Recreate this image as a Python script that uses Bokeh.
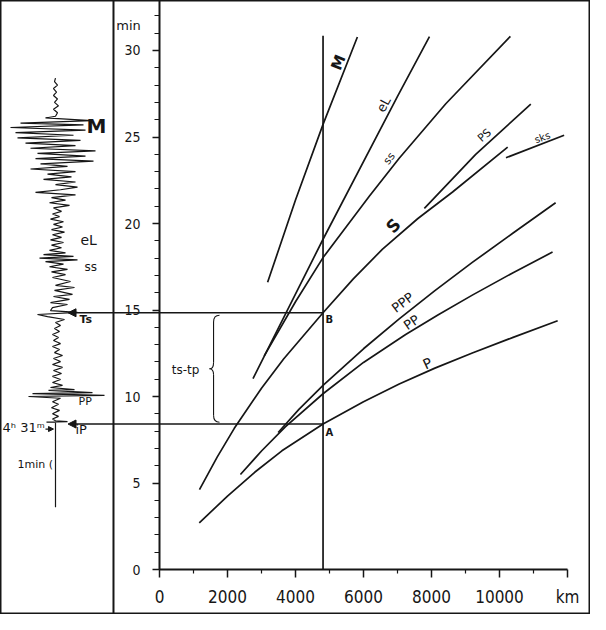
import math
from bokeh.plotting import figure
from bokeh.models import Range1d, LinearAxis, FixedTicker, Span, Arrow, NormalHead
from bokeh.core.properties import value
from bokeh.embed import file_html
from bokeh.resources import INLINE

# ---------------- data (distance km, travel time min) ----------------
P_KM = [1170, 2000, 2800, 3600, 4810, 6000, 7050, 8100, 9200, 10400, 11710]
P_MIN = [2.70, 4.24, 5.62, 6.86, 8.41, 9.70, 10.72, 11.64, 12.52, 13.42, 14.38]

PP_KM = [2380, 3000, 3700, 4810, 6000, 7240, 8200, 9200, 10400, 11560]
PP_MIN = [5.49, 6.85, 8.25, 10.16, 11.97, 13.58, 14.73, 15.86, 17.16, 18.35]

PPP_KM = [3490, 4100, 4810, 6000, 7050, 8100, 9200, 10400, 11650]
PPP_MIN = [7.92, 9.26, 10.64, 12.76, 14.49, 16.12, 17.75, 19.45, 21.20]

S_KM = [1176, 1700, 2200, 3000, 3650, 4810, 5700, 6560, 7600, 8620, 10240]
S_MIN = [4.62, 6.51, 8.16, 10.48, 12.17, 14.84, 16.80, 18.52, 20.29, 21.82, 24.41]

SS_KM = [3080, 4000, 4810, 6170, 7050, 8420, 10320]
SS_MIN = [12.35, 15.48, 18.03, 21.57, 23.77, 26.92, 30.82]

EL_KM = [2750, 4810, 7000, 7940]
EL_MIN = [11.04, 19.09, 27.35, 30.80]

M_KM = [3180, 4000, 4810, 5820]
M_MIN = [16.60, 21.36, 25.73, 30.78]

PS_KM = [7790, 9300, 10920]
PS_MIN = [20.87, 24.00, 26.90]

SKS_KM = [10190, 11900]
SKS_MIN = [23.80, 25.10]

STATION_KM = 4810
TP_MIN = 8.41          # point A
TS_MIN = 14.84         # point B
STATION_TOP = 30.85

Y_TICKS = [0, 5, 10, 15, 20, 25, 30]
Y_MINOR = list(range(0, 33))
X_TICKS = [0, 2000, 4000, 6000, 8000, 10000, 12000]
X_MINOR = [1000, 3000, 5000, 7000, 9000, 11000]

# seismogram trace: time (min) vs. trace deflection (arbitrary units)
SEIS_T = [3.60, 8.50, 8.52, 8.55, 8.60, 8.70, 8.85, 9.00, 9.20, 9.35, 9.55, 9.70, 9.90,
          10.00, 10.06, 10.17, 10.23, 10.35, 10.40, 10.52, 10.64,
          10.81, 10.98, 11.16, 11.33, 11.50, 11.68, 11.85, 12.02, 12.20, 12.37, 12.54,
          12.72, 12.89, 13.06, 13.24, 13.41, 13.58, 13.76, 13.93, 14.10, 14.28, 14.45,
          14.62, 14.74, 14.86, 14.97, 15.14, 15.32, 15.43, 15.61, 15.78, 15.90, 16.13,
          16.30, 16.42, 16.65, 16.88,
          17.05, 17.20, 17.35, 17.50, 17.65, 17.80, 17.90, 18.00, 18.10, 18.20, 18.30,
          18.45, 18.60, 18.75, 18.90, 19.05, 19.20, 19.35, 19.50, 19.65, 19.80, 19.95,
          20.10, 20.25, 20.40, 20.55, 20.70,
          20.90, 21.05, 21.20, 21.35, 21.50, 21.65, 21.80, 21.95, 22.10, 22.25, 22.40,
          22.55, 22.70, 22.85,
          23.00, 23.15, 23.30, 23.45, 23.60, 23.75, 23.90, 24.05, 24.20, 24.35, 24.50,
          24.65, 24.80, 24.95, 25.10, 25.25, 25.40, 25.55, 25.70, 25.80, 25.95, 26.10, 26.20,
          26.40, 26.60, 26.80, 27.00, 27.20, 27.40, 27.60, 27.80, 28.00, 28.20, 28.40]
SEIS_AMP = [0, 0, -9, 12, 0, -3, 3, -3, 4, -4, 3, -3, 5,
            -27, 49, -23, 37, -7, 19, -5, 7,
            -3, 5, -3, 6, -2, 7, -3, 5, -2, 7, -1, 4, -3, 5, -2, 3, -3, 4, -1, 5, 0, 9,
            -8, -18, 22, -5, -3, 12, -5, 14, -2, 17, -1, 19, 0, 15, -3,
            10, -4, 12, -6, 8, -10, 22, -16, 18, -12, 10,
            -6, 6, -4, 8, -5, 6, -3, 9, -4, 7, -2, 8, -5, 4, -3, 6,
            -2, 14, -6, 10, -4, 20, -20, 5, 22, 0, 20, -12, 16, -8,
            20, -25, 12, -15, 38, -20, 30, -18, 40, -25, 20, -30, 25, -38, 18, -40, 30,
            -45, 28, -35, 36, -10, 0,
            2, -2, 3, -1, 2, -2, 1, -2, 2, -1, 0]

# ---------------- layout / style ----------------
INK = "#161616"
NARROW = "DejaVu Sans Condensed"
SANS = "DejaVu Sans"
SEPARATOR_KM = -1353
ARROW_TIP_KM = -2690

p = figure(width=590, height=614,
           x_range=Range1d(-4676, 12676), y_range=Range1d(-2.60, 32.89),
           x_axis_type=None, y_axis_type=None,
           output_backend="svg", toolbar_location=None, min_border=0)
p.outline_line_color = INK
p.outline_line_width = 2
p.background_fill_color = "white"
p.border_fill_color = "white"
p.extra_x_ranges = {"seis": Range1d(-55, 535)}

yax = LinearAxis(fixed_location=0, bounds=(0, 32.89),
                 ticker=FixedTicker(ticks=Y_TICKS, minor_ticks=Y_MINOR),
                 axis_line_color=INK, axis_line_width=2,
                 major_tick_line_color=INK, major_tick_line_width=1.5,
                 minor_tick_line_color=INK, minor_tick_line_width=1.2,
                 major_tick_in=0, major_tick_out=7, minor_tick_in=0, minor_tick_out=5,
                 major_label_standoff=12, major_label_text_font=NARROW,
                 major_label_text_font_size="14px", major_label_text_color=INK)
p.add_layout(yax, "left")

xax = LinearAxis(fixed_location=0, bounds=(0, 12000),
                 ticker=FixedTicker(ticks=X_TICKS, minor_ticks=X_MINOR),
                 major_label_overrides={12000: "km"},
                 axis_line_color=INK, axis_line_width=2,
                 major_tick_line_color=INK, major_tick_line_width=1.5,
                 minor_tick_line_color=INK, minor_tick_line_width=1.2,
                 major_tick_in=0, major_tick_out=8, minor_tick_in=0, minor_tick_out=4,
                 major_label_standoff=9, major_label_text_font=NARROW,
                 major_label_text_font_size="17px", major_label_text_color=INK)
p.add_layout(xax, "below")

p.add_layout(Span(location=SEPARATOR_KM, dimension="height", line_color=INK, line_width=2))

# travel-time curves
for xs, ys in [(P_KM, P_MIN), (PP_KM, PP_MIN), (PPP_KM, PPP_MIN), (S_KM, S_MIN),
               (SS_KM, SS_MIN), (EL_KM, EL_MIN), (M_KM, M_MIN), (PS_KM, PS_MIN),
               (SKS_KM, SKS_MIN)]:
    p.line(xs, ys, line_color=INK, line_width=1.7, line_join="round")

# station line and A/B read-off arrows
p.segment(x0=[STATION_KM], y0=[0], x1=[STATION_KM], y1=[STATION_TOP],
          line_color=INK, line_width=1.7)
for t in (TS_MIN, TP_MIN):
    p.add_layout(Arrow(x_start=STATION_KM, y_start=t, x_end=ARROW_TIP_KM, y_end=t,
                       line_color=INK, line_width=1.6,
                       end=NormalHead(size=8, fill_color=INK, line_color=INK)))

# brace between A and B
bx, tipx, endx = 1590, 1470, 1765
top, bot = TS_MIN - 0.14, TP_MIN + 0.10
mid = (top + bot) / 2
p.quadratic(x0=[endx, bx, tipx, bx], y0=[top, mid + 0.35, mid, bot + 0.4],
            x1=[bx, tipx, bx, endx], y1=[top - 0.4, mid, mid - 0.35, bot],
            cx=[bx, bx, bx, bx], cy=[top, mid, mid, bot],
            line_color=INK, line_width=1.1)
p.segment(x0=[bx, bx], y0=[top - 0.4, mid - 0.35], x1=[bx, bx], y1=[mid + 0.35, bot + 0.4],
          line_color=INK, line_width=1.1)

# seismogram
p.line(SEIS_AMP, SEIS_T, x_range_name="seis", line_color=INK, line_width=1.2)
p.add_layout(Arrow(x_start=-3353, y_start=8.12, x_end=-3118, y_end=8.12,
                   line_color=INK, line_width=1.3,
                   end=NormalHead(size=5, fill_color=INK, line_color=INK)))


def lab(x, y, text, size, angle=0, align="center", font=SANS, style="normal", rng="default"):
    p.text(x=[x], y=[y], text=[text], angle=math.radians(angle), x_range_name=rng,
           text_font=value(font), text_font_size=value(size), text_font_style=style,
           text_align=align, text_baseline="middle", text_color=INK)


# chart annotations
lab(-910, 31.45, "min", "13px")
lab(5265, 29.31, "M", "15px", 68, style="bold")
lab(6590, 26.88, "eL", "13px", 62)
lab(6760, 23.76, "ss", "11px", 52)
lab(6880, 19.88, "S", "17px", 45, style="bold")
lab(9560, 25.09, "PS", "11px", 42)
lab(11260, 24.97, "sks", "10px", 20)
lab(7150, 15.43, "PPP", "13px", 37)
lab(7410, 14.28, "PP", "13px", 34)
lab(7880, 11.91, "P", "14px", 25)
lab(4880, 14.45, "B", "10px", align="left", style="bold")
lab(4880, 7.92, "A", "10px", align="left", style="bold")
lab(765, 11.56, "ts-tp", "12px")

# seismogram annotations
lab(41, 25.61, "M", "20px", style="bold", rng="seis")
lab(25, 19.02, "eL", "14px", align="left", rng="seis")
lab(29, 17.50, "ss", "12px", align="left", rng="seis")
lab(24, 14.45, "Ts", "11px", align="left", style="bold", rng="seis")
lab(23, 9.71, "PP", "11px", align="left", rng="seis")
lab(20, 8.09, "iP", "13px", align="left", rng="seis")
lab(-53, 8.21, "4ʰ 31ᵐ", "13px", align="left", rng="seis")
lab(-38, 6.07, "1min (", "11px", align="left", rng="seis")

open("out.html", "w").write(file_html(p, INLINE))
